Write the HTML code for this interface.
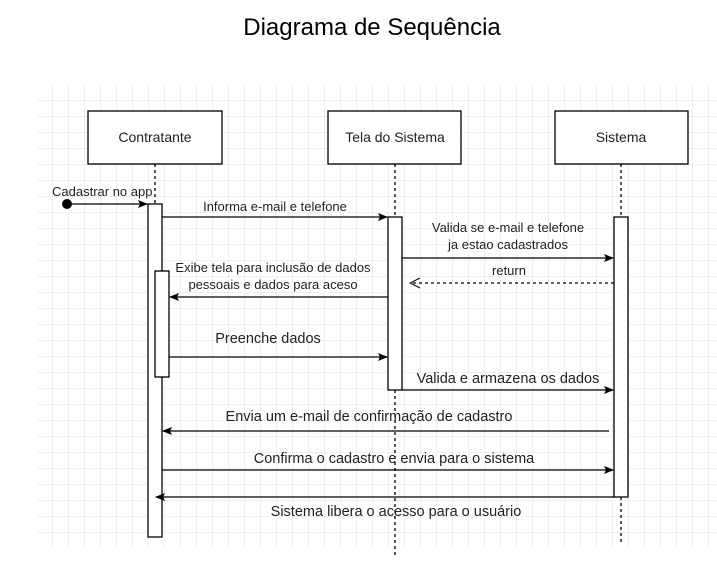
<!DOCTYPE html>
<html><head><meta charset="utf-8"><style>
html,body{margin:0;padding:0;background:#fff;}
body{width:717px;height:558px;overflow:hidden;position:relative;}
</style></head><body>
<svg width="717" height="558" xmlns="http://www.w3.org/2000/svg" font-family="Liberation Sans, Arial, sans-serif">
<defs>
<pattern id="g" width="16" height="16" patternUnits="userSpaceOnUse" x="37" y="85">
<path d="M16 0V16M0 16H16" fill="none" stroke="#e2e2e2" stroke-width="1"/>
</pattern>
<marker id="a" markerWidth="10" markerHeight="10" refX="9" refY="5" orient="auto" markerUnits="userSpaceOnUse">
<path d="M0,1 L10,5 L0,9 L2,5 z" fill="#000"/>
</marker>
<marker id="o" markerWidth="12" markerHeight="12" refX="11" refY="6" orient="auto" markerUnits="userSpaceOnUse">
<path d="M1,1 L11,6 L1,11" fill="none" stroke="#000" stroke-width="1"/>
</marker>
</defs>
<text x="372" y="35" font-size="24" text-anchor="middle" fill="#000">Diagrama de Sequência</text>
<rect x="37" y="85" width="680" height="462" fill="url(#g)"/>
<g stroke="#000" stroke-width="1.3" fill="none">
<path d="M155 164V204M395 164V217M621 164V217M395 390V558M621 497V545" stroke-dasharray="3,3"/>
</g>
<g fill="#fff" stroke="#000" stroke-width="1.3">
<rect x="88" y="111" width="134" height="53"/>
<rect x="328" y="111" width="133" height="53"/>
<rect x="555" y="111" width="133" height="53"/>
<rect x="148" y="204" width="14" height="333"/>
<rect x="155" y="271" width="14" height="106"/>
<rect x="388" y="217" width="14" height="173"/>
<rect x="614" y="217" width="14" height="280"/>
</g>
<g font-size="14" text-anchor="middle" fill="#222">
<text x="155" y="142">Contratante</text>
<text x="395" y="142">Tela do Sistema</text>
<text x="621" y="142">Sistema</text>
</g>
<circle cx="67" cy="204" r="5" fill="#000"/>
<g stroke="#000" stroke-width="1.3" fill="none">
<line x1="67" y1="204" x2="147" y2="204" marker-end="url(#a)"/>
<line x1="162" y1="217" x2="387" y2="217" marker-end="url(#a)"/>
<line x1="402" y1="258" x2="613" y2="258" marker-end="url(#a)"/>
<line x1="614" y1="283" x2="410" y2="283" stroke-dasharray="3,3" marker-end="url(#o)"/>
<line x1="388" y1="297" x2="170" y2="297" marker-end="url(#a)"/>
<line x1="169" y1="357" x2="387" y2="357" marker-end="url(#a)"/>
<line x1="402" y1="390" x2="613" y2="390" marker-end="url(#a)"/>
<line x1="609" y1="431" x2="163" y2="431" marker-end="url(#a)"/>
<line x1="162" y1="470" x2="613" y2="470" marker-end="url(#a)"/>
<line x1="614" y1="497" x2="156" y2="497" marker-end="url(#a)"/>
</g>
<g font-size="13" fill="#222" text-anchor="middle">
<text x="52" y="196" text-anchor="start">Cadastrar no app</text>
<text x="275" y="211">Informa e-mail e telefone</text>
<text x="508" y="232">Valida se e-mail e telefone</text>
<text x="508" y="249">ja estao cadastrados</text>
<text x="509" y="275">return</text>
<text x="273" y="272">Exibe tela para inclusão de dados</text>
<text x="273" y="289">pessoais e dados para aceso</text>
</g>
<g font-size="14.5" fill="#222" text-anchor="middle">
<text x="268" y="343">Preenche dados</text>
<text x="508" y="383">Valida e armazena os dados</text>
<text x="369" y="421">Envia um e-mail de confirmação de cadastro</text>
<text x="394" y="463">Confirma o cadastro e envia para o sistema</text>
<text x="396" y="516">Sistema libera o acesso para o usuário</text>
</g>
</svg>
</body></html>
